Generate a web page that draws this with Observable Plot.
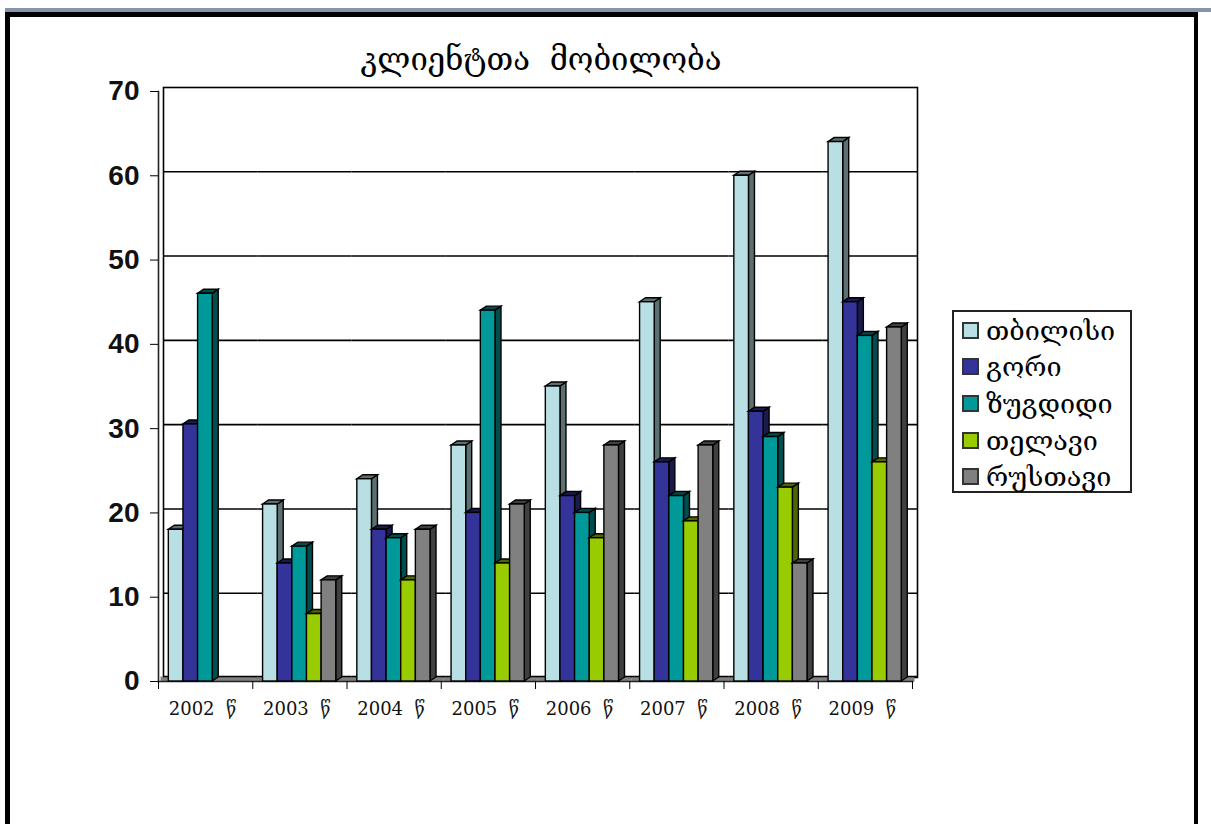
<!DOCTYPE html>
<html lang="ka">
<head>
<meta charset="utf-8">
<script src="https://cdn.jsdelivr.net/npm/d3@7"></script>
<script src="https://cdn.jsdelivr.net/npm/@observablehq/plot@0.6"></script>
<style>
html,body{margin:0;padding:0;background:#fff;overflow:hidden;width:1211px;height:824px;position:relative}
#strip{position:absolute;left:5px;top:8px;width:1206px;height:4px;background:#8a93ad}
#border{position:absolute;left:5px;top:12px;width:1193px;height:830px;box-sizing:border-box;border:5px solid #000;border-right-width:4px}
#chart{position:absolute;left:0;top:0}
#title{position:absolute;left:241px;width:600px;top:41px;text-align:center;font:31px "DejaVu Serif","DejaVu Sans",serif;color:#000;white-space:pre}
#legend{position:absolute;left:952px;top:310px;width:180px;height:183px;box-sizing:border-box;border:2px solid #222;background:#fff}
.row{display:flex;align-items:center;height:36.6px;font:27px "DejaVu Serif","DejaVu Sans",serif;color:#000;white-space:nowrap}
.sw{width:13px;height:13px;border:2px solid #333;margin:0 7px 0 8px;flex:none}
</style>
</head>
<body>
<div id="strip"></div>
<div id="border"></div>
<div id="chart"></div>
<div id="title">კლიენტთა  მობილობა</div>
<div id="legend"></div>
<script>
const years = ["2002 წ","2003 წ","2004 წ","2005 წ","2006 წ","2007 წ","2008 წ","2009 წ"];
const cities = ["თბილისი","გორი","ზუგდიდი","თელავი","რუსთავი"];
const colors = ["#b8dfe3","#333399","#009999","#99cc00","#808080"];
const tbilisi = [18,21,24,28,35,45,60,64];
const gori = [30.5,14,18,20,22,26,32,45];
const zugdidi = [46,16,17,44,20,22,29,41];
const telavi = [null,8,12,14,17,19,23,26];
const rustavi = [null,12,18,21,28,28,14,42];
const series = [tbilisi,gori,zugdidi,telavi,rustavi];
const yTicks = [0,10,20,30,40,50,60,70];

const rows = cities.flatMap((city,c)=>years.map((year,i)=>({year,city,value:series[c][i]}))).filter(d=>d.value!=null);

const wallX = 5, wallY = 4, floorDepth = 5, barDepthX = 6, barDepthY = 4;
const shade = f => {const c=d3.rgb(f);return d3.rgb(c.r*.5,c.g*.5,c.b*.5).formatHex();};
function extrude(index, scales, values, dims, ctx, next){
  const g = next(index, scales, values, dims, ctx);
  g.querySelectorAll("rect").forEach(r=>{
    const x=+r.getAttribute("x"),y=+r.getAttribute("y"),w=+r.getAttribute("width"),h=+r.getAttribute("height");
    const f=r.getAttribute("fill");
    const faces=[
      [[x+w,y],[x+w+barDepthX,y-barDepthY],[x+w+barDepthX,y+h-barDepthY],[x+w,y+h]],
      [[x,y],[x+barDepthX,y-barDepthY],[x+w+barDepthX,y-barDepthY],[x+w,y]]
    ];
    faces.forEach(p=>{
      const el=document.createElementNS("http://www.w3.org/2000/svg","polygon");
      el.setAttribute("points",p.map(q=>q.join(",")).join(" "));
      el.setAttribute("fill",shade(f));
      el.setAttribute("stroke","#000");
      el.setAttribute("stroke-width","1.4");
      r.parentNode.insertBefore(el,r);
    });
  });
  return g;
}

const chart = Plot.plot({
  width:930,height:735,
  marginLeft:158,marginRight:18,marginTop:91,marginBottom:54,
  style:{background:"transparent",overflow:"visible"},
  fx:{domain:years,padding:0,round:false,label:null,axis:null},
  x:{domain:cities,paddingInner:0,paddingOuter:.72,align:.49,round:false,axis:null},
  y:{domain:[0,70],axis:null,label:null},
  color:{domain:cities,range:colors},
  marks:[
    Plot.frame({facet:"super",dx:wallX,dy:-wallY,stroke:"#000",strokeWidth:1.6}),
    Plot.ruleY(yTicks.slice(1,7),{dx:wallX,dy:-wallY,stroke:"#000",strokeWidth:1.6}),
    Plot.ruleY([0],{dx:wallX/2,dy:-floorDepth/2,stroke:"#808080",strokeWidth:floorDepth}),
    Plot.ruleY([0],{dx:wallX,dy:-floorDepth,stroke:"#000",strokeWidth:1.4}),
    Plot.frame({facet:"super",anchor:"left",stroke:"#222",strokeWidth:1.6}),
    Plot.frame({facet:"super",anchor:"bottom",stroke:"#222",strokeWidth:1.6}),
    Plot.barY(rows,{fx:"year",x:"city",y:"value",fill:"city",stroke:"#000",strokeWidth:1.4,render:extrude}),
    Plot.axisY({ticks:yTicks,tickSize:8,tickPadding:11,label:null,fontSize:28,fontWeight:"bold",fontFamily:"Liberation Sans",stroke:"#000",fill:"#111"}),
    Plot.axisFx({anchor:"bottom",tickSize:8,text:null,label:null,dx:-47.1,stroke:"#000"}),
    Plot.axisFx({anchor:"bottom",ticks:[years[7]],tickSize:8,text:null,label:null,dx:47.1,stroke:"#000"}),
    Plot.axisFx({anchor:"bottom",tickSize:0,tickPadding:21,label:null,fontSize:18,fontFamily:"DejaVu Serif, DejaVu Sans",fill:"#111",dx:-3,tickFormat:d=>d.replace(" ","\u00a0\u00a0")})
  ]
});
document.getElementById("chart").append(chart);

const legend = document.getElementById("legend");
cities.forEach((c,i)=>{
  const row=document.createElement("div");row.className="row";
  const sw=document.createElement("span");sw.className="sw";sw.style.background=colors[i];
  const t=document.createElement("span");t.textContent=c;
  row.append(sw,t);legend.append(row);
});
</script>
</body>
</html>
